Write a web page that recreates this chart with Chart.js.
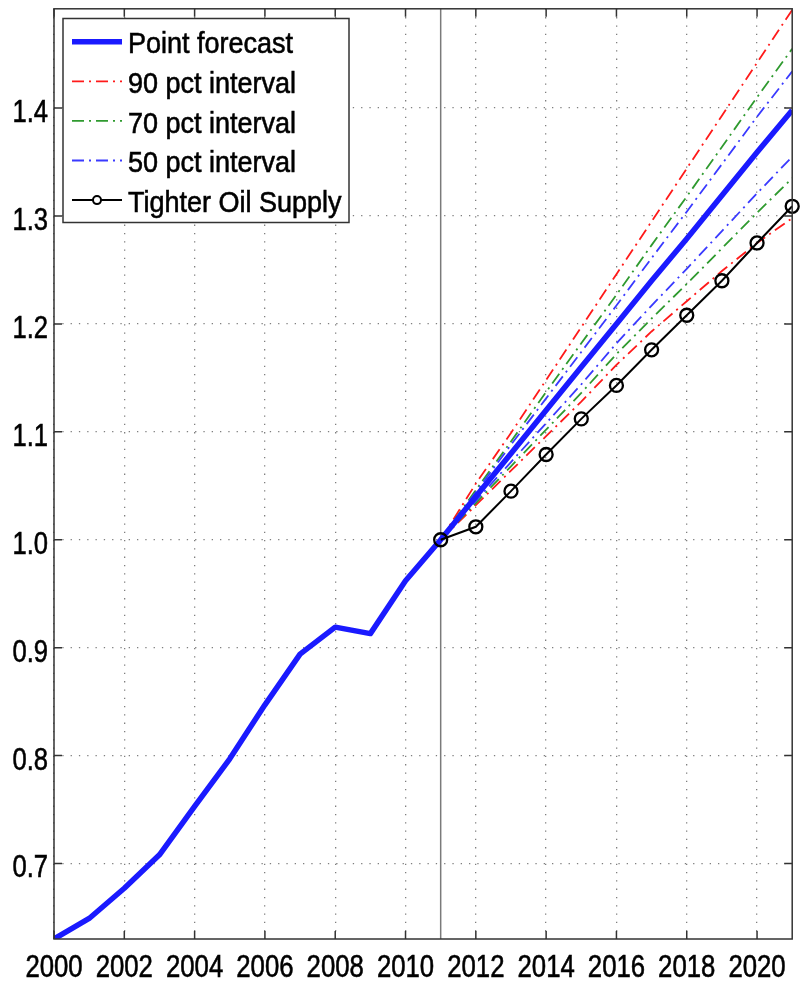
<!DOCTYPE html>
<html><head><meta charset="utf-8">
<script src="https://cdn.jsdelivr.net/npm/chart.js@4.4.1/dist/chart.umd.min.js"></script>
<style>html,body{margin:0;padding:0;background:#fff;}canvas{display:block}</style>
</head><body>
<canvas id="c" width="801" height="985" style="width:801px;height:985px"></canvas>
<script>
// ---- data ----
const histYears   = [2000,2001,2002,2003,2004,2005,2006,2007,2008,2009,2010,2011];
const histValues  = [0.630,0.649,0.677,0.708,0.753,0.797,0.847,0.894,0.919,0.913,0.962,1.000];
const fcYears     = [2011,2012,2013,2014,2015,2016,2017,2018,2019,2020,2021];
const pointFc     = [1.000,1.040,1.080,1.120,1.160,1.200,1.240,1.279,1.319,1.359,1.398];
const upper90     = [1.000,1.052,1.099,1.148,1.197,1.246,1.295,1.344,1.393,1.442,1.491];
const lower90     = [1.000,1.032,1.064,1.096,1.128,1.162,1.193,1.221,1.249,1.275,1.298];
const upper70     = [1.000,1.046,1.091,1.137,1.182,1.227,1.273,1.318,1.364,1.410,1.455];
const lower70     = [1.000,1.034,1.068,1.102,1.136,1.172,1.205,1.237,1.270,1.303,1.335];
const upper50     = [1.000,1.044,1.088,1.131,1.174,1.217,1.261,1.304,1.348,1.392,1.434];
const lower50     = [1.000,1.036,1.072,1.108,1.144,1.182,1.217,1.251,1.286,1.321,1.355];
const tighterOil  = [1.000,1.012,1.045,1.079,1.112,1.143,1.176,1.208,1.240,1.275,1.309];
const xTickValues = [2000,2002,2004,2006,2008,2010,2012,2014,2016,2018,2020];
const yTickValues = [0.7,0.8,0.9,1.0,1.1,1.2,1.3,1.4];
const breakYear = 2011;
const labels = ['Point forecast','90 pct interval','70 pct interval','50 pct interval','Tighter Oil Supply'];

// ---- styling ----
const FONT = "'Liberation Sans',Arial,Helvetica,sans-serif";
const RED = '#ff1a1a', GREEN = '#2f9a2f', BLUE = '#1a1aff', BLUE_D = '#3a3aff';
const DASH = [12,5,2,5];
const xFmt = v => String(v);
const yFmt = v => Number(v).toFixed(1);

const pts = (xs, ys) => xs.map((x,i)=>({x, y: ys[i]}));
const pfYears = histYears.concat(fcYears.slice(1));
const pfValues = histValues.concat(pointFc.slice(1));

function band(label, ys, color, order){
  return {label, data: pts(fcYears, ys), borderColor: color, borderWidth: 1.8,
          borderDash: DASH, pointRadius: 0, fill: false, tension: 0, order, clip: 0};
}

const datasets = [
  {label: labels[0], data: pts(pfYears, pfValues), borderColor: BLUE, borderWidth: 5.5,
   pointRadius: 0, fill: false, tension: 0, order: 1, clip: 0, borderCapStyle:'butt', borderJoinStyle:'round'},
  band(labels[1], upper90, RED, 4), band(labels[1], lower90, RED, 4),
  band(labels[2], upper70, GREEN, 3), band(labels[2], lower70, GREEN, 3),
  band(labels[3], upper50, BLUE_D, 2), band(labels[3], lower50, BLUE_D, 2),
  {label: labels[4], data: pts(fcYears, tighterOil), borderColor: '#000', borderWidth: 2,
   pointRadius: 6.5, pointBorderWidth: 2.3, pointBorderColor: '#000', pointBackgroundColor: 'rgba(0,0,0,0)',
   fill: false, tension: 0, order: 0, clip: 12}
];

// draw text horizontally condensed (narrow Helvetica look)
function narrowText(ctx, text, x, y, size, sx, align){
  ctx.save();
  ctx.font = size + 'px ' + FONT;
  ctx.textBaseline = 'alphabetic';
  ctx.textAlign = align;
  ctx.translate(x, y); ctx.scale(sx, 1);
  ctx.fillText(text, 0, 0);
  ctx.lineWidth = 0.6; ctx.strokeStyle = ctx.fillStyle; ctx.strokeText(text, 0, 0);
  ctx.restore();
}

const framePlugin = {
  id: 'frame',
  beforeDatasetsDraw(chart){
    const {ctx, chartArea: a, scales: {x}} = chart;
    const px = x.getPixelForValue(breakYear);
    ctx.save(); ctx.strokeStyle = '#7a7a7a'; ctx.lineWidth = 1.5;
    ctx.beginPath(); ctx.moveTo(px, a.top); ctx.lineTo(px, a.bottom); ctx.stroke(); ctx.restore();
  },
  afterDatasetsDraw(chart){
    const {ctx, chartArea: a, scales: {x, y}} = chart;
    ctx.save(); ctx.strokeStyle = '#333'; ctx.lineWidth = 1.5; ctx.setLineDash([]);
    ctx.strokeRect(a.left, a.top, a.right - a.left, a.bottom - a.top);
    const L = 8;
    ctx.beginPath();
    x.ticks.forEach(t => { const p = x.getPixelForValue(t.value);
      ctx.moveTo(p, a.bottom); ctx.lineTo(p, a.bottom - L); ctx.moveTo(p, a.top); ctx.lineTo(p, a.top + L); });
    y.ticks.forEach(t => { const p = y.getPixelForValue(t.value);
      ctx.moveTo(a.left, p); ctx.lineTo(a.left + L, p); ctx.moveTo(a.right, p); ctx.lineTo(a.right - L, p); });
    ctx.stroke();
    // tick labels
    ctx.fillStyle = '#000';
    x.ticks.forEach(t => narrowText(ctx, xFmt(t.value), x.getPixelForValue(t.value), a.bottom + 37.5, 31, 0.83, 'center'));
    y.ticks.forEach(t => narrowText(ctx, yFmt(t.value), a.left - 6, y.getPixelForValue(t.value) + 14, 32, 0.8, 'right'));
    ctx.restore();
  },
  afterDraw(chart){
    const ctx = chart.ctx;
    const box = {x: 63, y: 18.5, w: 286, h: 204};
    ctx.save();
    ctx.fillStyle = '#fff'; ctx.fillRect(box.x, box.y, box.w, box.h);
    ctx.strokeStyle = '#333'; ctx.lineWidth = 1.5; ctx.strokeRect(box.x, box.y, box.w, box.h);
    const seen = new Set(); let row = 0;
    chart.data.datasets.forEach(ds => {
      if (seen.has(ds.label)) return; seen.add(ds.label);
      const cy = box.y + 23.2 + row * 39.6;
      ctx.setLineDash(ds.borderDash || []);
      ctx.strokeStyle = ds.borderColor; ctx.lineWidth = ds.borderWidth;
      ctx.beginPath(); ctx.moveTo(72, cy); ctx.lineTo(122, cy); ctx.stroke();
      ctx.setLineDash([]);
      if (ds.pointRadius > 0) {
        ctx.beginPath(); ctx.arc(97, cy, 4, 0, Math.PI*2); ctx.fillStyle = '#fff'; ctx.fill();
        ctx.lineWidth = 2; ctx.strokeStyle = ds.pointBorderColor; ctx.stroke();
      }
      ctx.fillStyle = '#000';
      narrowText(ctx, ds.label, 128, cy + 11.6, 30, 0.9, 'left');
      row++;
    });
    ctx.restore();
  }
};

new Chart(document.getElementById('c'), {
  type: 'line',
  data: {datasets},
  plugins: [framePlugin],
  options: {
    responsive: false, animation: false, devicePixelRatio: 1,
    layout: {padding: {top: 8, right: 4, left: 0, bottom: 0}},
    plugins: {legend: {display: false}, tooltip: {enabled: false}},
    scales: {
      x: {type: 'linear', min: 2000, max: 2021,
          afterBuildTicks: s => { s.ticks = xTickValues.map(v => ({value: v})); },
          afterFit: s => { s.height = 46; },
          ticks: {display: false, autoSkip: false, maxRotation: 0, callback: xFmt},
          grid: {color: 'rgba(0,0,0,0.5)', lineWidth: 1.3, drawTicks: false},
          border: {display: false, dash: [1.3, 7]}},
      y: {type: 'linear', min: 0.63, max: 1.492,
          afterBuildTicks: s => { s.ticks = yTickValues.map(v => ({value: v})); },
          afterFit: s => { s.width = 54; },
          ticks: {display: false, callback: yFmt},
          grid: {color: 'rgba(0,0,0,0.5)', lineWidth: 1.3, drawTicks: false},
          border: {display: false, dash: [1.3, 7]}}
    }
  }
});
</script>
</body></html>
